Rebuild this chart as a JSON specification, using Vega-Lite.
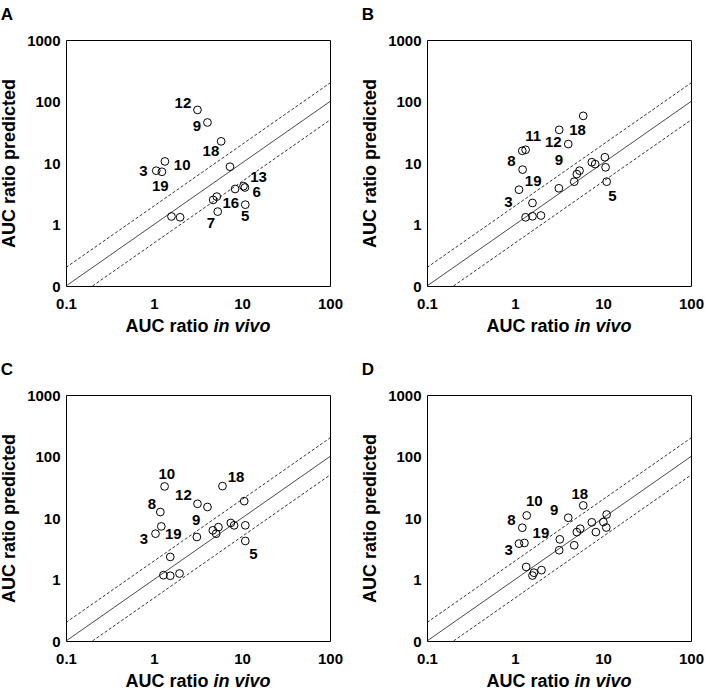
{
  "$schema": "https://vega.github.io/schema/vega-lite/v6.json",
  "background": "white",
  "padding": {"left": 0, "top": 5, "right": 5, "bottom": 5},
  "datasets": {
    "lines": [
      {"line": "unity", "x": 0.1, "y": 0.1}, {"line": "unity", "x": 100, "y": 100},
      {"line": "upper", "x": 0.1, "y": 0.2}, {"line": "upper", "x": 100, "y": 200},
      {"line": "lower", "x": 0.2, "y": 0.1}, {"line": "lower", "x": 100, "y": 50}
    ],
    "pts": [
      {"panel": "A", "x": 3.12, "y": 73}, {"panel": "A", "x": 4.05, "y": 45.6}, {"panel": "A", "x": 5.79, "y": 22.5},
      {"panel": "A", "x": 1.33, "y": 10.6}, {"panel": "A", "x": 1.06, "y": 7.5}, {"panel": "A", "x": 1.23, "y": 7.2},
      {"panel": "A", "x": 7.3, "y": 8.7}, {"panel": "A", "x": 10.4, "y": 4.2}, {"panel": "A", "x": 10.8, "y": 4.0},
      {"panel": "A", "x": 8.35, "y": 3.78}, {"panel": "A", "x": 5.17, "y": 2.84}, {"panel": "A", "x": 4.7, "y": 2.51},
      {"panel": "A", "x": 10.9, "y": 2.1}, {"panel": "A", "x": 5.3, "y": 1.62}, {"panel": "A", "x": 1.58, "y": 1.35},
      {"panel": "A", "x": 1.98, "y": 1.31},
      {"panel": "B", "x": 5.96, "y": 58.4}, {"panel": "B", "x": 3.18, "y": 34.6}, {"panel": "B", "x": 4.03, "y": 20.3},
      {"panel": "B", "x": 1.21, "y": 15.8}, {"panel": "B", "x": 1.32, "y": 16.4}, {"panel": "B", "x": 1.22, "y": 7.8},
      {"panel": "B", "x": 1.11, "y": 3.68}, {"panel": "B", "x": 3.15, "y": 3.88}, {"panel": "B", "x": 1.58, "y": 2.24},
      {"panel": "B", "x": 1.32, "y": 1.31}, {"panel": "B", "x": 1.58, "y": 1.36}, {"panel": "B", "x": 1.97, "y": 1.4},
      {"panel": "B", "x": 4.71, "y": 4.97}, {"panel": "B", "x": 5.04, "y": 6.6}, {"panel": "B", "x": 5.41, "y": 7.5},
      {"panel": "B", "x": 7.46, "y": 10.3}, {"panel": "B", "x": 8.15, "y": 9.6}, {"panel": "B", "x": 10.5, "y": 12.4},
      {"panel": "B", "x": 10.7, "y": 8.5}, {"panel": "B", "x": 11.0, "y": 4.97},
      {"panel": "C", "x": 1.32, "y": 32.6}, {"panel": "C", "x": 6.0, "y": 33}, {"panel": "C", "x": 3.12, "y": 17.0},
      {"panel": "C", "x": 4.05, "y": 15.1}, {"panel": "C", "x": 10.6, "y": 18.8}, {"panel": "C", "x": 1.18, "y": 12.5},
      {"panel": "C", "x": 1.21, "y": 7.3}, {"panel": "C", "x": 1.04, "y": 5.56}, {"panel": "C", "x": 3.07, "y": 4.91},
      {"panel": "C", "x": 1.53, "y": 2.33}, {"panel": "C", "x": 1.28, "y": 1.175}, {"panel": "C", "x": 1.53, "y": 1.15},
      {"panel": "C", "x": 1.95, "y": 1.25}, {"panel": "C", "x": 4.66, "y": 6.3}, {"panel": "C", "x": 5.08, "y": 5.56},
      {"panel": "C", "x": 5.4, "y": 7.1}, {"panel": "C", "x": 7.46, "y": 8.3}, {"panel": "C", "x": 8.13, "y": 7.6},
      {"panel": "C", "x": 10.9, "y": 7.6}, {"panel": "C", "x": 10.9, "y": 4.23},
      {"panel": "D", "x": 5.96, "y": 16.0}, {"panel": "D", "x": 4.03, "y": 10.1}, {"panel": "D", "x": 1.36, "y": 11.0},
      {"panel": "D", "x": 1.21, "y": 6.95}, {"panel": "D", "x": 1.11, "y": 3.83}, {"panel": "D", "x": 1.28, "y": 3.93},
      {"panel": "D", "x": 3.23, "y": 4.5}, {"panel": "D", "x": 3.18, "y": 2.99}, {"panel": "D", "x": 1.34, "y": 1.6},
      {"panel": "D", "x": 1.58, "y": 1.16}, {"panel": "D", "x": 1.64, "y": 1.29}, {"panel": "D", "x": 2.0, "y": 1.42},
      {"panel": "D", "x": 4.71, "y": 3.6}, {"panel": "D", "x": 5.04, "y": 5.9}, {"panel": "D", "x": 5.51, "y": 6.7},
      {"panel": "D", "x": 7.46, "y": 8.5}, {"panel": "D", "x": 8.3, "y": 5.9}, {"panel": "D", "x": 10.1, "y": 8.6},
      {"panel": "D", "x": 11.0, "y": 11.4}, {"panel": "D", "x": 10.9, "y": 7.0}
    ],
    "labs": [
      {"panel": "A", "label": "12", "x": 2.13, "y": 93.8}, {"panel": "A", "label": "9", "x": 3.07, "y": 39.3},
      {"panel": "A", "label": "18", "x": 4.43, "y": 15.5}, {"panel": "A", "label": "10", "x": 2.09, "y": 9.4},
      {"panel": "A", "label": "3", "x": 0.76, "y": 7.5}, {"panel": "A", "label": "19", "x": 1.18, "y": 4.28},
      {"panel": "A", "label": "13", "x": 15.4, "y": 6.0}, {"panel": "A", "label": "6", "x": 14.7, "y": 3.35},
      {"panel": "A", "label": "16", "x": 7.46, "y": 2.22}, {"panel": "A", "label": "5", "x": 10.9, "y": 1.36},
      {"panel": "A", "label": "7", "x": 4.43, "y": 1.06},
      {"panel": "B", "label": "18", "x": 5.14, "y": 34.6}, {"panel": "B", "label": "11", "x": 1.61, "y": 27.1},
      {"panel": "B", "label": "12", "x": 2.72, "y": 21.6}, {"panel": "B", "label": "8", "x": 0.91, "y": 10.9},
      {"panel": "B", "label": "9", "x": 3.15, "y": 11.2}, {"panel": "B", "label": "19", "x": 1.61, "y": 5.04},
      {"panel": "B", "label": "3", "x": 0.84, "y": 2.3}, {"panel": "B", "label": "5", "x": 12.8, "y": 2.88},
      {"panel": "C", "label": "10", "x": 1.4, "y": 52}, {"panel": "C", "label": "18", "x": 8.57, "y": 46},
      {"panel": "C", "label": "12", "x": 2.16, "y": 23.3}, {"panel": "C", "label": "8", "x": 0.95, "y": 17},
      {"panel": "C", "label": "9", "x": 3.01, "y": 9.2}, {"panel": "C", "label": "19", "x": 1.66, "y": 5.56},
      {"panel": "C", "label": "3", "x": 0.77, "y": 4.6}, {"panel": "C", "label": "5", "x": 13.5, "y": 2.63},
      {"panel": "D", "label": "18", "x": 5.45, "y": 24.7}, {"panel": "D", "label": "10", "x": 1.66, "y": 18.8},
      {"panel": "D", "label": "9", "x": 2.79, "y": 13.3}, {"panel": "D", "label": "8", "x": 0.91, "y": 9.2},
      {"panel": "D", "label": "19", "x": 1.97, "y": 5.77}, {"panel": "D", "label": "3", "x": 0.85, "y": 2.99}
    ]
  },
  "columns": 2,
  "spacing": {"row": 24, "column": 17},
  "concat": [
    {
      "title": "A", "width": 264, "height": 246,
      "resolve": {"axis": {"x": "independent"}},
      "layer": [
        {"data": {"name": "lines"}, "mark": {"type": "line", "color": "black", "strokeWidth": 0.8},
         "encoding": {"x": {"field": "x", "type": "quantitative", "scale": {"type": "log", "domain": [0.1, 100]}, "axis": {"orient": "bottom", "title": "AUC ratio", "titleAlign": "right", "titleX": 142, "titleY": 31, "titleBaseline": "top", "values": [0.1, 1, 10, 100], "labelExpr": "datum.value < 0.5 ? '0.1' : format(datum.value, 'd')"}},
                      "y": {"field": "y", "type": "quantitative", "scale": {"type": "log", "domain": [0.1, 1000]}, "axis": {"title": "AUC ratio predicted", "values": [0.1, 1, 10, 100, 1000], "labelExpr": "datum.value < 0.5 ? '0' : format(datum.value, 'd')"}},
                      "detail": {"field": "line"},
                      "strokeDash": {"field": "line", "type": "nominal", "scale": {"domain": ["unity", "upper", "lower"], "range": [[1, 0], [3, 2], [3, 2]]}, "legend": null}}},
        {"data": {"name": "pts"}, "transform": [{"filter": "datum.panel == 'A'"}],
         "mark": {"type": "point", "shape": "circle", "filled": false, "color": "black", "size": 60, "strokeWidth": 1, "opacity": 1},
         "encoding": {"x": {"field": "x", "type": "quantitative", "axis": {"orient": "bottom", "title": "in vivo", "titleFontStyle": "italic", "titleAlign": "left", "titleX": 147, "titleY": 31, "titleBaseline": "top", "labels": false, "values": [1]}}, "y": {"field": "y", "type": "quantitative"}}},
        {"data": {"name": "labs"}, "transform": [{"filter": "datum.panel == 'A'"}],
         "mark": {"type": "text", "font": "Liberation Sans", "fontWeight": "bold", "fontSize": 15, "color": "black", "baseline": "middle", "align": "center"},
         "encoding": {"x": {"field": "x", "type": "quantitative", "axis": null}, "y": {"field": "y", "type": "quantitative"}, "text": {"field": "label"}}}
      ]
    },
    {
      "title": "B", "width": 264, "height": 246,
      "resolve": {"axis": {"x": "independent"}},
      "layer": [
        {"data": {"name": "lines"}, "mark": {"type": "line", "color": "black", "strokeWidth": 0.8},
         "encoding": {"x": {"field": "x", "type": "quantitative", "scale": {"type": "log", "domain": [0.1, 100]}, "axis": {"orient": "bottom", "title": "AUC ratio", "titleAlign": "right", "titleX": 142, "titleY": 31, "titleBaseline": "top", "values": [0.1, 1, 10, 100], "labelExpr": "datum.value < 0.5 ? '0.1' : format(datum.value, 'd')"}},
                      "y": {"field": "y", "type": "quantitative", "scale": {"type": "log", "domain": [0.1, 1000]}, "axis": {"title": "AUC ratio predicted", "values": [0.1, 1, 10, 100, 1000], "labelExpr": "datum.value < 0.5 ? '0' : format(datum.value, 'd')"}},
                      "detail": {"field": "line"},
                      "strokeDash": {"field": "line", "type": "nominal", "scale": {"domain": ["unity", "upper", "lower"], "range": [[1, 0], [3, 2], [3, 2]]}, "legend": null}}},
        {"data": {"name": "pts"}, "transform": [{"filter": "datum.panel == 'B'"}],
         "mark": {"type": "point", "shape": "circle", "filled": false, "color": "black", "size": 60, "strokeWidth": 1, "opacity": 1},
         "encoding": {"x": {"field": "x", "type": "quantitative", "axis": {"orient": "bottom", "title": "in vivo", "titleFontStyle": "italic", "titleAlign": "left", "titleX": 147, "titleY": 31, "titleBaseline": "top", "labels": false, "values": [1]}}, "y": {"field": "y", "type": "quantitative"}}},
        {"data": {"name": "labs"}, "transform": [{"filter": "datum.panel == 'B'"}],
         "mark": {"type": "text", "font": "Liberation Sans", "fontWeight": "bold", "fontSize": 15, "color": "black", "baseline": "middle", "align": "center"},
         "encoding": {"x": {"field": "x", "type": "quantitative", "axis": null}, "y": {"field": "y", "type": "quantitative"}, "text": {"field": "label"}}}
      ]
    },
    {
      "title": "C", "width": 264, "height": 246,
      "resolve": {"axis": {"x": "independent"}},
      "layer": [
        {"data": {"name": "lines"}, "mark": {"type": "line", "color": "black", "strokeWidth": 0.8},
         "encoding": {"x": {"field": "x", "type": "quantitative", "scale": {"type": "log", "domain": [0.1, 100]}, "axis": {"orient": "bottom", "title": "AUC ratio", "titleAlign": "right", "titleX": 142, "titleY": 31, "titleBaseline": "top", "values": [0.1, 1, 10, 100], "labelExpr": "datum.value < 0.5 ? '0.1' : format(datum.value, 'd')"}},
                      "y": {"field": "y", "type": "quantitative", "scale": {"type": "log", "domain": [0.1, 1000]}, "axis": {"title": "AUC ratio predicted", "values": [0.1, 1, 10, 100, 1000], "labelExpr": "datum.value < 0.5 ? '0' : format(datum.value, 'd')"}},
                      "detail": {"field": "line"},
                      "strokeDash": {"field": "line", "type": "nominal", "scale": {"domain": ["unity", "upper", "lower"], "range": [[1, 0], [3, 2], [3, 2]]}, "legend": null}}},
        {"data": {"name": "pts"}, "transform": [{"filter": "datum.panel == 'C'"}],
         "mark": {"type": "point", "shape": "circle", "filled": false, "color": "black", "size": 60, "strokeWidth": 1, "opacity": 1},
         "encoding": {"x": {"field": "x", "type": "quantitative", "axis": {"orient": "bottom", "title": "in vivo", "titleFontStyle": "italic", "titleAlign": "left", "titleX": 147, "titleY": 31, "titleBaseline": "top", "labels": false, "values": [1]}}, "y": {"field": "y", "type": "quantitative"}}},
        {"data": {"name": "labs"}, "transform": [{"filter": "datum.panel == 'C'"}],
         "mark": {"type": "text", "font": "Liberation Sans", "fontWeight": "bold", "fontSize": 15, "color": "black", "baseline": "middle", "align": "center"},
         "encoding": {"x": {"field": "x", "type": "quantitative", "axis": null}, "y": {"field": "y", "type": "quantitative"}, "text": {"field": "label"}}}
      ]
    },
    {
      "title": "D", "width": 264, "height": 246,
      "resolve": {"axis": {"x": "independent"}},
      "layer": [
        {"data": {"name": "lines"}, "mark": {"type": "line", "color": "black", "strokeWidth": 0.8},
         "encoding": {"x": {"field": "x", "type": "quantitative", "scale": {"type": "log", "domain": [0.1, 100]}, "axis": {"orient": "bottom", "title": "AUC ratio", "titleAlign": "right", "titleX": 142, "titleY": 31, "titleBaseline": "top", "values": [0.1, 1, 10, 100], "labelExpr": "datum.value < 0.5 ? '0.1' : format(datum.value, 'd')"}},
                      "y": {"field": "y", "type": "quantitative", "scale": {"type": "log", "domain": [0.1, 1000]}, "axis": {"title": "AUC ratio predicted", "values": [0.1, 1, 10, 100, 1000], "labelExpr": "datum.value < 0.5 ? '0' : format(datum.value, 'd')"}},
                      "detail": {"field": "line"},
                      "strokeDash": {"field": "line", "type": "nominal", "scale": {"domain": ["unity", "upper", "lower"], "range": [[1, 0], [3, 2], [3, 2]]}, "legend": null}}},
        {"data": {"name": "pts"}, "transform": [{"filter": "datum.panel == 'D'"}],
         "mark": {"type": "point", "shape": "circle", "filled": false, "color": "black", "size": 60, "strokeWidth": 1, "opacity": 1},
         "encoding": {"x": {"field": "x", "type": "quantitative", "axis": {"orient": "bottom", "title": "in vivo", "titleFontStyle": "italic", "titleAlign": "left", "titleX": 147, "titleY": 31, "titleBaseline": "top", "labels": false, "values": [1]}}, "y": {"field": "y", "type": "quantitative"}}},
        {"data": {"name": "labs"}, "transform": [{"filter": "datum.panel == 'D'"}],
         "mark": {"type": "text", "font": "Liberation Sans", "fontWeight": "bold", "fontSize": 15, "color": "black", "baseline": "middle", "align": "center"},
         "encoding": {"x": {"field": "x", "type": "quantitative", "axis": null}, "y": {"field": "y", "type": "quantitative"}, "text": {"field": "label"}}}
      ]
    }
  ],
  "config": {
    "view": {"stroke": "black", "strokeWidth": 1},
    "axis": {"grid": false, "ticks": false, "domain": false, "labelFont": "Liberation Sans", "labelFontWeight": "bold", "labelFontSize": 15, "labelColor": "black", "labelPadding": 6, "labelOverlap": false, "labelFlush": false, "labelBound": false, "titleFont": "Liberation Sans", "titleFontWeight": "bold", "titleFontSize": 18, "titleColor": "black"},
    "axisX": {"titlePadding": 6, "labelPadding": 10},
    "axisY": {"titlePadding": 8},
    "title": {"anchor": "start", "frame": "bounds", "font": "Liberation Sans", "fontSize": 17, "fontWeight": "bold", "color": "black", "offset": 9}
  }
}
